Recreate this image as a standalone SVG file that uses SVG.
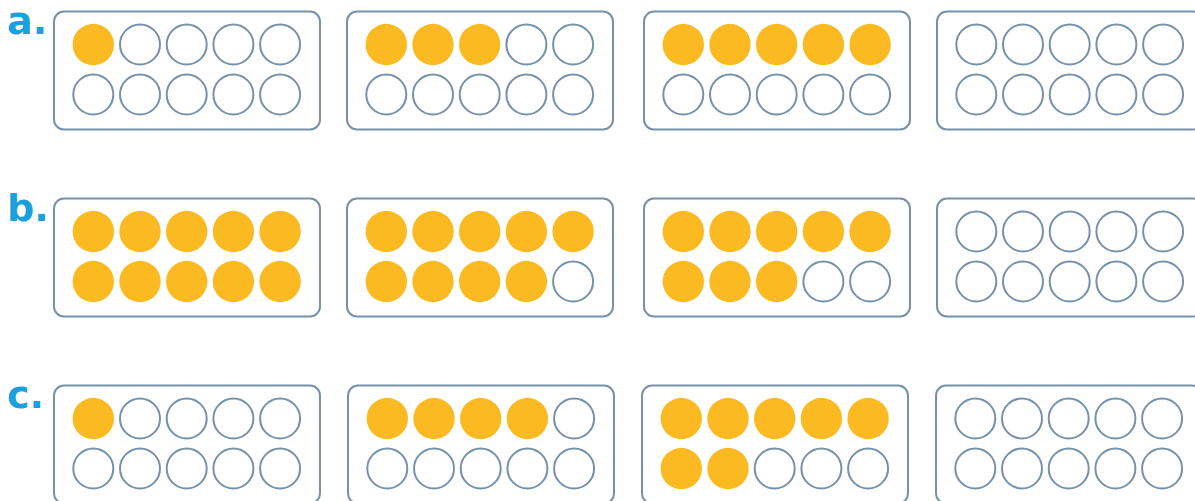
<svg xmlns="http://www.w3.org/2000/svg" width="1195" height="501" viewBox="0 0 1195 501">
<style>
.frame{fill:#fff;stroke:#7692ab;stroke-width:2}
.e{fill:#fff;stroke:#7692ab;stroke-width:2}
.f{fill:#fbba22;stroke:none}
.lbl{font-family:"DejaVu Sans","Liberation Sans",sans-serif;font-weight:bold;font-size:38px;fill:#1aa0dd}
</style>
<rect width="1195" height="501" fill="#fff"/>
<g id="labels">
<text class="lbl" x="7" y="34">a.</text>
<text class="lbl" x="7" y="221">b.</text>
<text class="lbl" x="7" y="408">c.</text>
</g>
<g id="a1" transform="translate(54,11.5)">
<rect class="frame" x="0" y="0" width="266" height="118" rx="10"/>
<circle class="f" cx="39.3" cy="33" r="20.7"/><circle class="e" cx="86" cy="33" r="20"/><circle class="e" cx="132.7" cy="33" r="20"/><circle class="e" cx="179.4" cy="33" r="20"/><circle class="e" cx="226.1" cy="33" r="20"/>
<circle class="e" cx="39.3" cy="83" r="20"/><circle class="e" cx="86" cy="83" r="20"/><circle class="e" cx="132.7" cy="83" r="20"/><circle class="e" cx="179.4" cy="83" r="20"/><circle class="e" cx="226.1" cy="83" r="20"/>
</g>
<g id="a2" transform="translate(347,11.5)">
<rect class="frame" x="0" y="0" width="266" height="118" rx="10"/>
<circle class="f" cx="39.3" cy="33" r="20.7"/><circle class="f" cx="86" cy="33" r="20.7"/><circle class="f" cx="132.7" cy="33" r="20.7"/><circle class="e" cx="179.4" cy="33" r="20"/><circle class="e" cx="226.1" cy="33" r="20"/>
<circle class="e" cx="39.3" cy="83" r="20"/><circle class="e" cx="86" cy="83" r="20"/><circle class="e" cx="132.7" cy="83" r="20"/><circle class="e" cx="179.4" cy="83" r="20"/><circle class="e" cx="226.1" cy="83" r="20"/>
</g>
<g id="a3" transform="translate(644,11.5)">
<rect class="frame" x="0" y="0" width="266" height="118" rx="10"/>
<circle class="f" cx="39.3" cy="33" r="20.7"/><circle class="f" cx="86" cy="33" r="20.7"/><circle class="f" cx="132.7" cy="33" r="20.7"/><circle class="f" cx="179.4" cy="33" r="20.7"/><circle class="f" cx="226.1" cy="33" r="20.7"/>
<circle class="e" cx="39.3" cy="83" r="20"/><circle class="e" cx="86" cy="83" r="20"/><circle class="e" cx="132.7" cy="83" r="20"/><circle class="e" cx="179.4" cy="83" r="20"/><circle class="e" cx="226.1" cy="83" r="20"/>
</g>
<g id="a4" transform="translate(937,11.5)">
<rect class="frame" x="0" y="0" width="266" height="118" rx="10"/>
<circle class="e" cx="39.3" cy="33" r="20"/><circle class="e" cx="86" cy="33" r="20"/><circle class="e" cx="132.7" cy="33" r="20"/><circle class="e" cx="179.4" cy="33" r="20"/><circle class="e" cx="226.1" cy="33" r="20"/>
<circle class="e" cx="39.3" cy="83" r="20"/><circle class="e" cx="86" cy="83" r="20"/><circle class="e" cx="132.7" cy="83" r="20"/><circle class="e" cx="179.4" cy="83" r="20"/><circle class="e" cx="226.1" cy="83" r="20"/>
</g>
<g id="b1" transform="translate(54,198.5)">
<rect class="frame" x="0" y="0" width="266" height="118" rx="10"/>
<circle class="f" cx="39.3" cy="33" r="20.7"/><circle class="f" cx="86" cy="33" r="20.7"/><circle class="f" cx="132.7" cy="33" r="20.7"/><circle class="f" cx="179.4" cy="33" r="20.7"/><circle class="f" cx="226.1" cy="33" r="20.7"/>
<circle class="f" cx="39.3" cy="83" r="20.7"/><circle class="f" cx="86" cy="83" r="20.7"/><circle class="f" cx="132.7" cy="83" r="20.7"/><circle class="f" cx="179.4" cy="83" r="20.7"/><circle class="f" cx="226.1" cy="83" r="20.7"/>
</g>
<g id="b2" transform="translate(347,198.5)">
<rect class="frame" x="0" y="0" width="266" height="118" rx="10"/>
<circle class="f" cx="39.3" cy="33" r="20.7"/><circle class="f" cx="86" cy="33" r="20.7"/><circle class="f" cx="132.7" cy="33" r="20.7"/><circle class="f" cx="179.4" cy="33" r="20.7"/><circle class="f" cx="226.1" cy="33" r="20.7"/>
<circle class="f" cx="39.3" cy="83" r="20.7"/><circle class="f" cx="86" cy="83" r="20.7"/><circle class="f" cx="132.7" cy="83" r="20.7"/><circle class="f" cx="179.4" cy="83" r="20.7"/><circle class="e" cx="226.1" cy="83" r="20"/>
</g>
<g id="b3" transform="translate(644,198.5)">
<rect class="frame" x="0" y="0" width="266" height="118" rx="10"/>
<circle class="f" cx="39.3" cy="33" r="20.7"/><circle class="f" cx="86" cy="33" r="20.7"/><circle class="f" cx="132.7" cy="33" r="20.7"/><circle class="f" cx="179.4" cy="33" r="20.7"/><circle class="f" cx="226.1" cy="33" r="20.7"/>
<circle class="f" cx="39.3" cy="83" r="20.7"/><circle class="f" cx="86" cy="83" r="20.7"/><circle class="f" cx="132.7" cy="83" r="20.7"/><circle class="e" cx="179.4" cy="83" r="20"/><circle class="e" cx="226.1" cy="83" r="20"/>
</g>
<g id="b4" transform="translate(937,198.5)">
<rect class="frame" x="0" y="0" width="266" height="118" rx="10"/>
<circle class="e" cx="39.3" cy="33" r="20"/><circle class="e" cx="86" cy="33" r="20"/><circle class="e" cx="132.7" cy="33" r="20"/><circle class="e" cx="179.4" cy="33" r="20"/><circle class="e" cx="226.1" cy="33" r="20"/>
<circle class="e" cx="39.3" cy="83" r="20"/><circle class="e" cx="86" cy="83" r="20"/><circle class="e" cx="132.7" cy="83" r="20"/><circle class="e" cx="179.4" cy="83" r="20"/><circle class="e" cx="226.1" cy="83" r="20"/>
</g>
<g id="c1" transform="translate(54,385.5)">
<rect class="frame" x="0" y="0" width="266" height="118" rx="10"/>
<circle class="f" cx="39.3" cy="33" r="20.7"/><circle class="e" cx="86" cy="33" r="20"/><circle class="e" cx="132.7" cy="33" r="20"/><circle class="e" cx="179.4" cy="33" r="20"/><circle class="e" cx="226.1" cy="33" r="20"/>
<circle class="e" cx="39.3" cy="83" r="20"/><circle class="e" cx="86" cy="83" r="20"/><circle class="e" cx="132.7" cy="83" r="20"/><circle class="e" cx="179.4" cy="83" r="20"/><circle class="e" cx="226.1" cy="83" r="20"/>
</g>
<g id="c2" transform="translate(348,385.5)">
<rect class="frame" x="0" y="0" width="266" height="118" rx="10"/>
<circle class="f" cx="39.3" cy="33" r="20.7"/><circle class="f" cx="86" cy="33" r="20.7"/><circle class="f" cx="132.7" cy="33" r="20.7"/><circle class="f" cx="179.4" cy="33" r="20.7"/><circle class="e" cx="226.1" cy="33" r="20"/>
<circle class="e" cx="39.3" cy="83" r="20"/><circle class="e" cx="86" cy="83" r="20"/><circle class="e" cx="132.7" cy="83" r="20"/><circle class="e" cx="179.4" cy="83" r="20"/><circle class="e" cx="226.1" cy="83" r="20"/>
</g>
<g id="c3" transform="translate(642,385.5)">
<rect class="frame" x="0" y="0" width="266" height="118" rx="10"/>
<circle class="f" cx="39.3" cy="33" r="20.7"/><circle class="f" cx="86" cy="33" r="20.7"/><circle class="f" cx="132.7" cy="33" r="20.7"/><circle class="f" cx="179.4" cy="33" r="20.7"/><circle class="f" cx="226.1" cy="33" r="20.7"/>
<circle class="f" cx="39.3" cy="83" r="20.7"/><circle class="f" cx="86" cy="83" r="20.7"/><circle class="e" cx="132.7" cy="83" r="20"/><circle class="e" cx="179.4" cy="83" r="20"/><circle class="e" cx="226.1" cy="83" r="20"/>
</g>
<g id="c4" transform="translate(936,385.5)">
<rect class="frame" x="0" y="0" width="266" height="118" rx="10"/>
<circle class="e" cx="39.3" cy="33" r="20"/><circle class="e" cx="86" cy="33" r="20"/><circle class="e" cx="132.7" cy="33" r="20"/><circle class="e" cx="179.4" cy="33" r="20"/><circle class="e" cx="226.1" cy="33" r="20"/>
<circle class="e" cx="39.3" cy="83" r="20"/><circle class="e" cx="86" cy="83" r="20"/><circle class="e" cx="132.7" cy="83" r="20"/><circle class="e" cx="179.4" cy="83" r="20"/><circle class="e" cx="226.1" cy="83" r="20"/>
</g>
</svg>
